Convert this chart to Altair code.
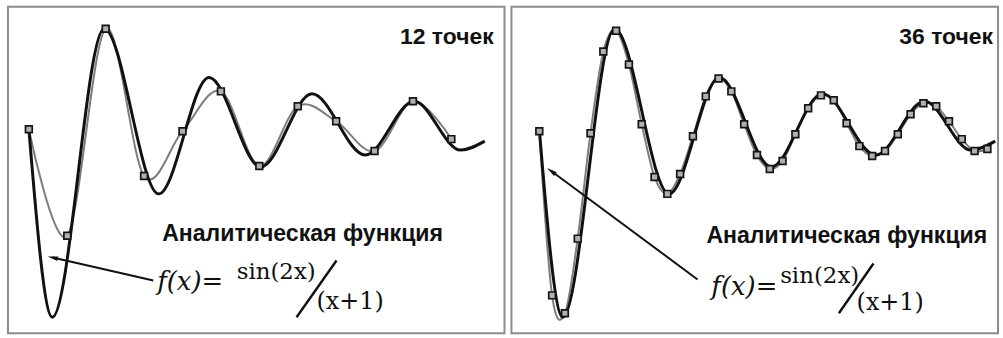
import math
import altair as alt
import pandas as pd

# Analytic curve: turning points (x, f) traced along the function, joined smoothly
curve_x = [0.0, 0.61, 1.96, 3.38, 4.69, 6.04, 7.37, 8.76, 10.03, 11.24, 11.87]
curve_y = [0.02, -1.87, 1.03, -0.63, 0.54, -0.36, 0.375, -0.24, 0.30, -0.19, -0.10]

# Sampled values: 12 points (step 1) and 36 points (step 1/3)
pts12 = [0.02, -1.05, 1.03, -0.45, 0.00, 0.40, -0.35, 0.25, 0.10, -0.20, 0.30, -0.08]
pts36 = [0.00, -1.65, -1.83, -1.08, -0.02, 0.80, 1.01, 0.67, 0.07, -0.46,
         -0.63, -0.43, -0.05, 0.35, 0.53, 0.40, 0.07, -0.24, -0.38, -0.30,
         -0.03, 0.23, 0.36, 0.31, 0.08, -0.15, -0.25, -0.20, -0.03, 0.17,
         0.28, 0.25, 0.10, -0.08, -0.20, -0.18]

titles = ["12 точек", "36 точек"]
caption = "Аналитическая функция"

Y_DOMAIN = [-2.03, 1.25]
HEIGHT = 328

# Per-panel placement of the labels, in data units
panels = [
    dict(samples=pts12, step=1.0, xdom=[-0.544, 12.383], width=499, title=titles[0],
         title_xy=(12.10, 0.88), cap_xy=(3.47, -1.10), fx_xy=(3.34, -1.60),
         num_xy=(5.41, -1.49), den_xy=(7.49, -1.79),
         slash=((6.97, -1.87), (8.01, -1.30)), arrow=((3.24, -1.50), (0.62, -1.27))),
    dict(samples=pts36, step=1.0 / 3.0, xdom=[-0.725, 11.943], width=489, title=titles[1],
         title_xy=(11.81, 0.88), cap_xy=(4.35, -1.12), fx_xy=(4.48, -1.65),
         num_xy=(6.27, -1.53), den_xy=(8.26, -1.80),
         slash=((7.80, -1.83), (8.70, -1.33)), arrow=((4.12, -1.49), (0.31, -0.40))),
]

ARROW_HEAD = "M0,-1L0.45,1L-0.45,1Z"


def make_panel(p):
    xs = alt.Scale(domain=p["xdom"], nice=False, zero=False)
    ys = alt.Scale(domain=Y_DOMAIN, nice=False, zero=False)

    def X(f):
        return alt.X(f, type="quantitative", scale=xs, axis=None)

    def Y(f):
        return alt.Y(f, type="quantitative", scale=ys, axis=None)

    curve = pd.DataFrame({"x": curve_x, "y": curve_y})
    samples = pd.DataFrame({
        "x": [i * p["step"] for i in range(len(p["samples"]))],
        "y": p["samples"],
    })

    analytic = alt.Chart(curve).mark_line(
        interpolate="monotone", color="#111111", strokeWidth=3
    ).encode(x=X("x"), y=Y("y"), order="x:Q")

    approx = alt.Chart(samples).mark_line(
        interpolate="cardinal", color="#7d7d7d", strokeWidth=2
    ).encode(x=X("x"), y=Y("y"), order="x:Q")

    markers = alt.Chart(samples).mark_square(
        size=46, fill="#b0b0b0", stroke="#141414", strokeWidth=1.7, opacity=1
    ).encode(x=X("x"), y=Y("y"))

    def label(xy, text, **kw):
        df = pd.DataFrame({"x": [xy[0]], "y": [xy[1]], "t": [text]})
        return alt.Chart(df).mark_text(baseline="alphabetic", color="#111111", **kw).encode(
            x=X("x"), y=Y("y"), text="t:N")

    title = label(p["title_xy"], p["title"], align="right", font="Liberation Sans",
                  fontWeight="bold", fontSize=23)
    cap = label(p["cap_xy"], caption, align="left", font="Liberation Sans",
                fontWeight="bold", fontSize=23.2)
    fx = label(p["fx_xy"], "f(x)=", align="left", font="DejaVu Serif",
               fontStyle="italic", fontSize=26)
    num = label(p["num_xy"], "sin(2x)", align="left", font="DejaVu Serif", fontSize=23)
    den = label(p["den_xy"], "(x+1)", align="left", font="DejaVu Serif", fontSize=24)

    (sx0, sy0), (sx1, sy1) = p["slash"]
    slash = alt.Chart(pd.DataFrame({"x": [sx0], "y": [sy0], "x2": [sx1], "y2": [sy1]})).mark_rule(
        color="#111111", strokeWidth=2.4
    ).encode(x=X("x"), y=Y("y"), x2="x2:Q", y2="y2:Q")

    (ax0, ay0), (ax1, ay1) = p["arrow"]
    shaft = alt.Chart(pd.DataFrame({"x": [ax0], "y": [ay0], "x2": [ax1], "y2": [ay1]})).mark_rule(
        color="#111111", strokeWidth=2
    ).encode(x=X("x"), y=Y("y"), x2="x2:Q", y2="y2:Q")

    # arrowhead rotated along the shaft, computed in pixel space
    kx = p["width"] / (p["xdom"][1] - p["xdom"][0])
    ky = HEIGHT / (Y_DOMAIN[1] - Y_DOMAIN[0])
    dx = (ax1 - ax0) * kx
    dy = -(ay1 - ay0) * ky
    ang = math.degrees(math.atan2(dx, -dy)) % 360
    head = alt.Chart(pd.DataFrame({"x": [ax1], "y": [ay1]})).mark_point(
        shape=ARROW_HEAD, size=110, filled=True, color="#111111", opacity=1, angle=ang
    ).encode(x=X("x"), y=Y("y"))

    return alt.layer(approx, analytic, markers, shaft, head, slash,
                     title, cap, fx, num, den).properties(width=p["width"], height=HEIGHT)


chart = alt.hconcat(*[make_panel(p) for p in panels], spacing=7, bounds="flush").properties(
    padding={"left": 7, "top": 5, "right": 0, "bottom": 0},
    background="white",
).configure_view(stroke="#8c8c8c", strokeWidth=2)

chart.save("out.html", embed_options={"renderer": "svg", "actions": False})
